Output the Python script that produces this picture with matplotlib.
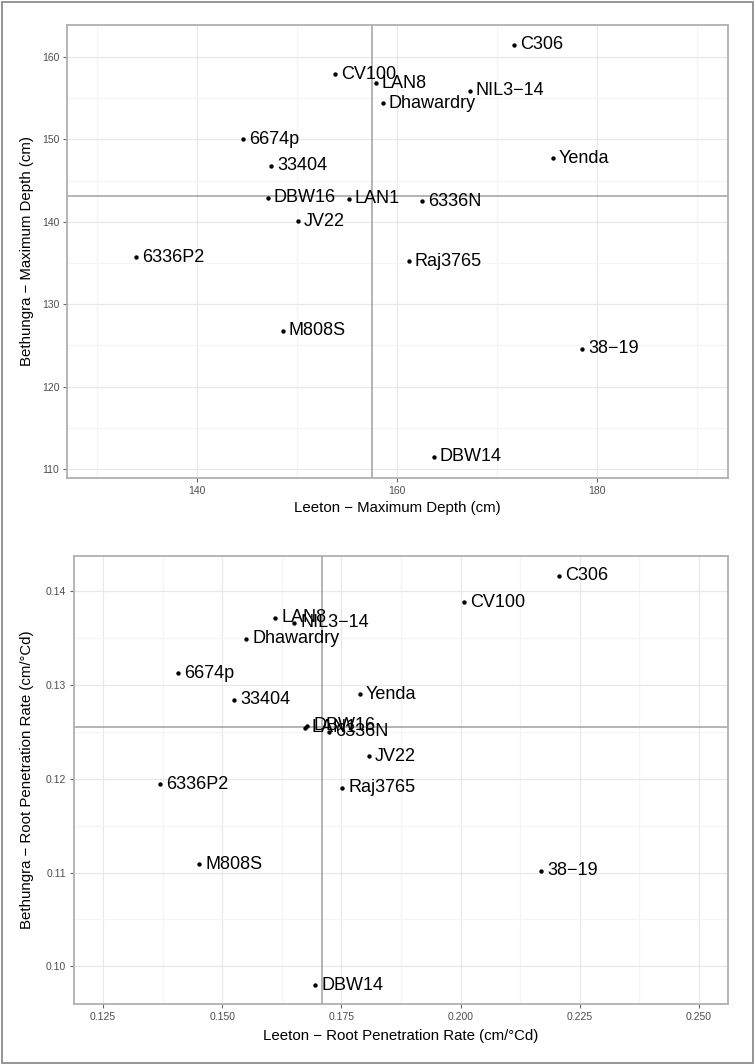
import matplotlib
matplotlib.use("Agg")
import matplotlib.pyplot as plt
from matplotlib.patches import Rectangle

plt.rcParams['font.family'] = ['Liberation Sans', 'DejaVu Sans']

# genotype names
genotypes = ["CV100", "LAN8", "NIL3\u221214", "Dhawardry", "C306", "Yenda", "6674p", "33404",
             "DBW16", "LAN1", "6336N", "JV22", "6336P2", "Raj3765", "M808S", "38\u221219", "DBW14"]

# maximum depth (cm)
depth_leeton = [153.8, 157.9, 167.3, 158.6, 171.7, 175.6, 144.6, 147.4,
                147.1, 155.2, 162.5, 150.1, 133.9, 161.2, 148.6, 178.5, 163.7]
depth_bethungra = [157.9, 156.8, 155.9, 154.4, 161.5, 147.7, 150.0, 146.8,
                   142.9, 142.8, 142.5, 140.1, 135.7, 135.2, 126.8, 124.6, 111.5]
depth_mean = (157.5, 143.1)

# root penetration rate (cm/°Cd)
rate_leeton = [0.2008, 0.1611, 0.1651, 0.1550, 0.2207, 0.1789, 0.1408, 0.1525,
               0.1678, 0.1674, 0.1724, 0.1808, 0.1370, 0.1752, 0.1452, 0.2169, 0.1695]
rate_bethungra = [0.1388, 0.1371, 0.1366, 0.1349, 0.1416, 0.1290, 0.1312, 0.1284,
                  0.1256, 0.1254, 0.1250, 0.1224, 0.1194, 0.1190, 0.1109, 0.1102, 0.0980]
rate_mean = (0.1710, 0.1255)


def draw_panel(ax, xs, ys, mean, xlim, ylim, xmaj, xmin_, ymaj, ymin_, xlab, ylab, xfmt, yfmt):
    ax.set_xlim(xlim)
    ax.set_ylim(ylim)
    ax.set_xticks(xmaj)
    ax.set_xticks(xmin_, minor=True)
    ax.set_yticks(ymaj)
    ax.set_yticks(ymin_, minor=True)
    ax.set_xticklabels([xfmt.format(v) for v in xmaj])
    ax.set_yticklabels([yfmt.format(v) for v in ymaj])
    ax.grid(which='major', color='#e8e8e8', lw=0.9, zorder=0)
    ax.grid(which='minor', color='#f5f5f5', lw=0.9, zorder=0)
    ax.set_axisbelow(True)
    ax.tick_params(which='major', length=3, width=0.8, color='#666666', labelsize=7.5,
                   labelcolor='#4d4d4d', pad=2.5)
    ax.tick_params(which='minor', length=0)
    for s in ax.spines.values():
        s.set_color('#b0b0b0')
        s.set_linewidth(1.3)
    ax.axvline(mean[0], color='#a0a0a0', lw=1.1, zorder=1)
    ax.axhline(mean[1], color='#a0a0a0', lw=1.1, zorder=1)
    ax.scatter(xs, ys, s=10, color='black', zorder=3, linewidths=0)
    # labels sit just right of each dot (they overlap where the dots crowd, as in the original)
    for x, y, name in zip(xs, ys, genotypes):
        ax.annotate(name, (x, y), xytext=(4.3, 0), textcoords='offset points',
                    ha='left', va='center', fontsize=13, color='black', zorder=4)
    ax.set_xlabel(xlab, fontsize=10.8, color='black')
    ax.set_ylabel(ylab, fontsize=10.8, color='black')


fig = plt.figure(figsize=(7.54, 10.64), dpi=100)

ax1 = fig.add_axes([67 / 754, 1 - 478 / 1064, 661 / 754, 453 / 1064])
draw_panel(ax1, depth_leeton, depth_bethungra, depth_mean, (127.0, 193.1), (108.9, 163.9),
           [140, 160, 180], [130, 150, 170, 190],
           [110, 120, 130, 140, 150, 160], [115, 125, 135, 145, 155],
           "Leeton \u2212 Maximum Depth (cm)", "Bethungra \u2212 Maximum Depth (cm)",
           "{:.0f}", "{:.0f}")
ax1.xaxis.set_label_coords(0.5, -0.066)
ax1.xaxis.label.set_va('center')
ax1.yaxis.set_label_coords(-0.0605, 0.5)
ax1.yaxis.label.set_va('center')

ax2 = fig.add_axes([74 / 754, 1 - 1004 / 1064, 654 / 754, 448 / 1064])
draw_panel(ax2, rate_leeton, rate_bethungra, rate_mean, (0.1189, 0.2561), (0.0960, 0.1437),
           [0.125, 0.150, 0.175, 0.200, 0.225, 0.250], [0.1375, 0.1625, 0.1875, 0.2125, 0.2375],
           [0.10, 0.11, 0.12, 0.13, 0.14], [0.105, 0.115, 0.125, 0.135],
           "Leeton \u2212 Root Penetration Rate (cm/\u00b0Cd)",
           "Bethungra \u2212 Root Penetration Rate (cm/\u00b0Cd)",
           "{:.3f}", "{:.2f}")
ax2.xaxis.set_label_coords(0.5, -0.0714)
ax2.xaxis.label.set_va('center')
ax2.yaxis.set_label_coords(-0.0719, 0.5)
ax2.yaxis.label.set_va('center')

# outer frame round the whole figure
fig.patches.append(Rectangle((1.5 / 754, 1.5 / 1064), 751 / 754, 1061 / 1064,
                             transform=fig.transFigure, fill=False,
                             edgecolor='#8c8c8c', lw=1.3))

fig.savefig("out.png", dpi=100)
